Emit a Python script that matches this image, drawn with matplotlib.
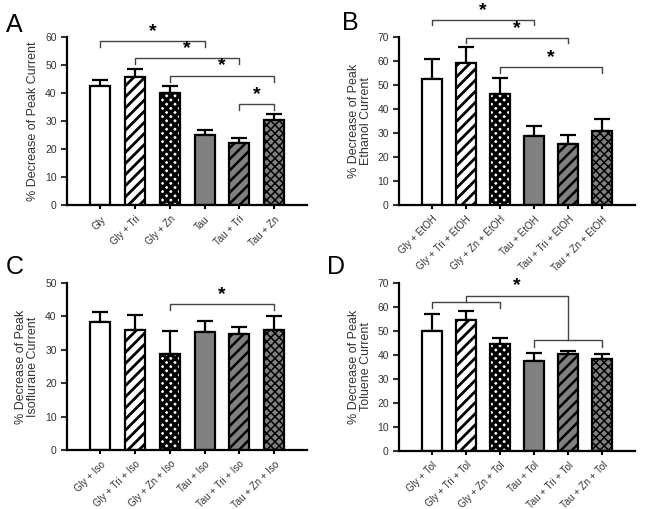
import matplotlib
matplotlib.use("Agg")
import matplotlib.pyplot as plt
import numpy as np

plt.rcParams['font.family'] = ['Liberation Sans', 'DejaVu Sans']
plt.rcParams['hatch.linewidth'] = 1.6

# data
labels_a = ["Gly", "Gly + Tri", "Gly + Zn", "Tau", "Tau + Tri", "Tau + Zn"]
mean_a = [42.6, 45.7, 40.0, 25.0, 22.1, 30.5]
sem_a = [2.2, 2.8, 2.4, 1.9, 1.7, 1.9]

labels_b = ["Gly + EtOH", "Gly + Tri + EtOH", "Gly + Zn + EtOH",
            "Tau + EtOH", "Tau + Tri + EtOH", "Tau + Zn + EtOH"]
mean_b = [52.5, 59.2, 46.4, 28.6, 25.3, 31.0]
sem_b = [8.3, 6.5, 6.5, 4.3, 4.0, 4.8]

labels_c = ["Gly + Iso", "Gly + Tri + Iso", "Gly + Zn + Iso",
            "Tau + Iso", "Tau + Tri + Iso", "Tau + Zn + Iso"]
mean_c = [38.3, 36.0, 28.8, 35.3, 34.6, 36.0]
sem_c = [3.0, 4.5, 6.8, 3.4, 2.2, 4.1]

labels_d = ["Gly + Tol", "Gly + Tri + Tol", "Gly + Zn + Tol",
            "Tau + Tol", "Tau + Tri + Tol", "Tau + Zn + Tol"]
mean_d = [50.0, 54.7, 44.6, 37.4, 40.3, 38.2]
sem_d = [6.9, 3.6, 2.6, 3.4, 1.4, 2.1]

# bar styles: (fill, hatch, hatch linewidth)
styles = [("white", "", 1.6), ("white", "///", 2.0), ("white", "xxxx", 2.4),
          ("#808080", "", 1.6), ("#808080", "///", 1.8), ("#808080", "xxxx", 1.1)]


def draw_panel(ax, labels, means, errs, ymax, ylabel):
    x = np.arange(len(means))
    bars = ax.bar(x, means, width=0.58, edgecolor="black", linewidth=1.6, zorder=2)
    for b, (fc, h, hlw) in zip(bars, styles):
        b.set_facecolor(fc)
        b.set_hatch(h)
        if hasattr(b, "set_hatch_linewidth"):
            b.set_hatch_linewidth(hlw)
    ax.errorbar(x, means, yerr=[np.zeros(len(errs)), errs], fmt="none",
                ecolor="black", elinewidth=1.6, capsize=6, capthick=1.6, zorder=1)
    ax.set_xlim(-0.96, 5.95)
    ax.set_ylim(0, ymax)
    ax.set_yticks(np.arange(0, ymax + 1, 10))
    ax.set_xticks(x)
    ax.set_xticklabels(labels, rotation=45, ha="right", rotation_mode="anchor",
                       fontsize=7, color="#333333")
    ax.tick_params(axis="y", labelsize=7.5, colors="#333333", length=4, width=1.5)
    ax.tick_params(axis="x", length=3, width=1.5)
    ax.spines["top"].set_visible(False)
    ax.spines["right"].set_visible(False)
    ax.spines["left"].set_linewidth(1.6)
    ax.spines["bottom"].set_linewidth(1.6)
    ax.set_ylabel(ylabel, fontsize=9, color="#333333", labelpad=4,
                  linespacing=1.0)


def bracket(ax, x1, x2, y, drop, star=True):
    ax.plot([x1, x1, x2, x2], [y - drop, y, y, y - drop], color="#444444",
            lw=1.0, clip_on=False)
    if star:
        ax.text((x1 + x2) / 2, y + drop * 0.2, "*", ha="center", va="bottom",
                fontsize=14, fontweight="bold")


fig = plt.figure(figsize=(6.45, 5.09), dpi=100)
ax_a = fig.add_axes([0.104, 0.597, 0.372, 0.330])
ax_b = fig.add_axes([0.619, 0.597, 0.365, 0.330])
ax_c = fig.add_axes([0.104, 0.116, 0.372, 0.328])
ax_d = fig.add_axes([0.619, 0.114, 0.365, 0.330])

draw_panel(ax_a, labels_a, mean_a, sem_a, 60, "% Decrease of Peak Current")
draw_panel(ax_b, labels_b, mean_b, sem_b, 70,
           "% Decrease of Peak\nEthanol Current")
draw_panel(ax_c, labels_c, mean_c, sem_c, 50,
           "% Decrease of Peak\nIsoflurane Current")
draw_panel(ax_d, labels_d, mean_d, sem_d, 70,
           "% Decrease of Peak\nToluene Current")

# panel letters
for lx, ly, letter in [(6, 13, "A"), (342, 11, "B"), (6, 255, "C"), (327, 255, "D")]:
    fig.text(lx / 645, 1 - ly / 509, letter, fontsize=18, va="top", ha="left")

# significance brackets
bracket(ax_a, 0, 3, 58.6, 2.2)
bracket(ax_a, 1, 4, 52.6, 2.1)
bracket(ax_a, 2, 5, 46.2, 2.2)
bracket(ax_a, 4, 5, 36.0, 2.0)

bracket(ax_b, 0, 3, 77.2, 2.0)
bracket(ax_b, 1, 4, 69.7, 2.0)
bracket(ax_b, 2, 5, 57.5, 2.4)

bracket(ax_c, 2, 5, 43.6, 1.6)

bracket(ax_d, 0, 2, 62.2, 2.8, star=False)
bracket(ax_d, 3, 5, 46.1, 2.8, star=False)
ax_d.plot([1, 1, 4, 4], [62.2, 64.7, 64.7, 46.1], color="#444444", lw=1.0,
          clip_on=False)
ax_d.text(2.5, 65.2, "*", ha="center", va="bottom", fontsize=14,
          fontweight="bold")

fig.savefig("out.png", dpi=100)
